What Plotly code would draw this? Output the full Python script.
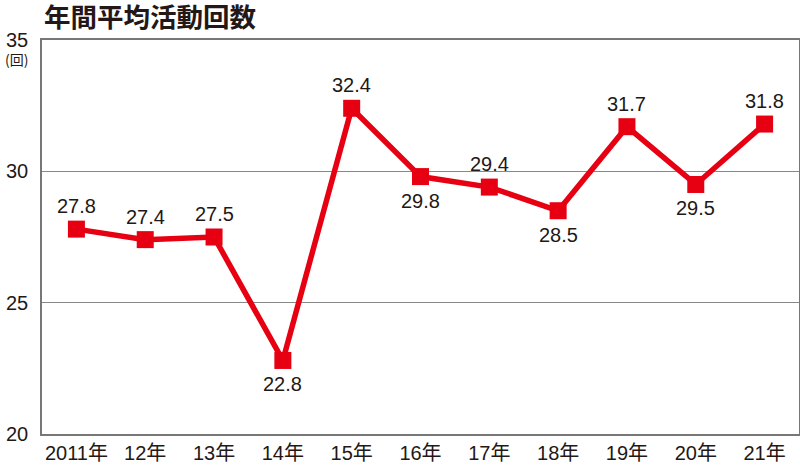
import plotly.graph_objects as go

categories = ["2011年", "12年", "13年", "14年", "15年", "16年", "17年", "18年", "19年", "20年", "21年"]
values = [27.8, 27.4, 27.5, 22.8, 32.4, 29.8, 29.4, 28.5, 31.7, 29.5, 31.8]
label_pos = ["above", "above", "above", "below", "above", "below", "above", "below", "above", "below", "above"]
y_ticks = [20, 25, 30, 35]

FONT = "Liberation Sans, Arial, Noto Sans CJK JP, sans-serif"
RED = "#e60012"
TXT = "#231815"

fig = go.Figure()
fig.add_trace(go.Scatter(
    x=categories, y=values, mode="lines+markers",
    line=dict(color=RED, width=5.5),
    marker=dict(symbol="square", size=17, color=RED),
    hoverinfo="skip",
))

annotations = []
for c, v, p in zip(categories, values, label_pos):
    annotations.append(dict(
        x=c, y=v, xref="x", yref="y", text=f"{v:.1f}", showarrow=False,
        yshift=23 if p == "above" else -24,
        font=dict(family=FONT, size=20, color=TXT),
    ))
annotations.append(dict(
    x=0, y=1, xref="paper", yref="paper", xanchor="right", yanchor="middle",
    xshift=-12, yshift=-19, text="(回)", showarrow=False,
    font=dict(family="Noto Sans CJK JP, sans-serif", size=14, color=TXT),
))
annotations.append(dict(
    x=0, y=1, xref="paper", yref="paper", xanchor="left", yanchor="middle",
    yshift=25, text="<b>年間平均活動回数</b>", showarrow=False,
    font=dict(family="Noto Sans CJK JP, sans-serif", size=26.5, color=TXT),
))

fig.update_layout(
    width=800, height=466,
    margin=dict(l=42, r=1, t=40, b=32),
    paper_bgcolor="white", plot_bgcolor="white",
    showlegend=False,
    annotations=annotations,
    xaxis=dict(
        type="category", range=[-0.5, 10.5], showgrid=False, automargin=False,
        showline=True, linecolor="#777777", linewidth=1.5, mirror=True,
        ticks="", ticklabelstandoff=0, tickfont=dict(family=FONT, size=20, color=TXT),
    ),
    yaxis=dict(
        range=[20, 35], tickvals=y_ticks, showgrid=True, gridcolor="#888888", gridwidth=1,
        showline=True, linecolor="#777777", linewidth=1.5, mirror=True, automargin=False,
        ticks="", ticklabelstandoff=8, zeroline=False, tickfont=dict(family=FONT, size=20, color=TXT),
    ),
)

fig.write_html(
    "out.html",
    config={"displayModeBar": False},
    post_script="document.body.style.margin='0';document.body.style.overflow='hidden';",
)
